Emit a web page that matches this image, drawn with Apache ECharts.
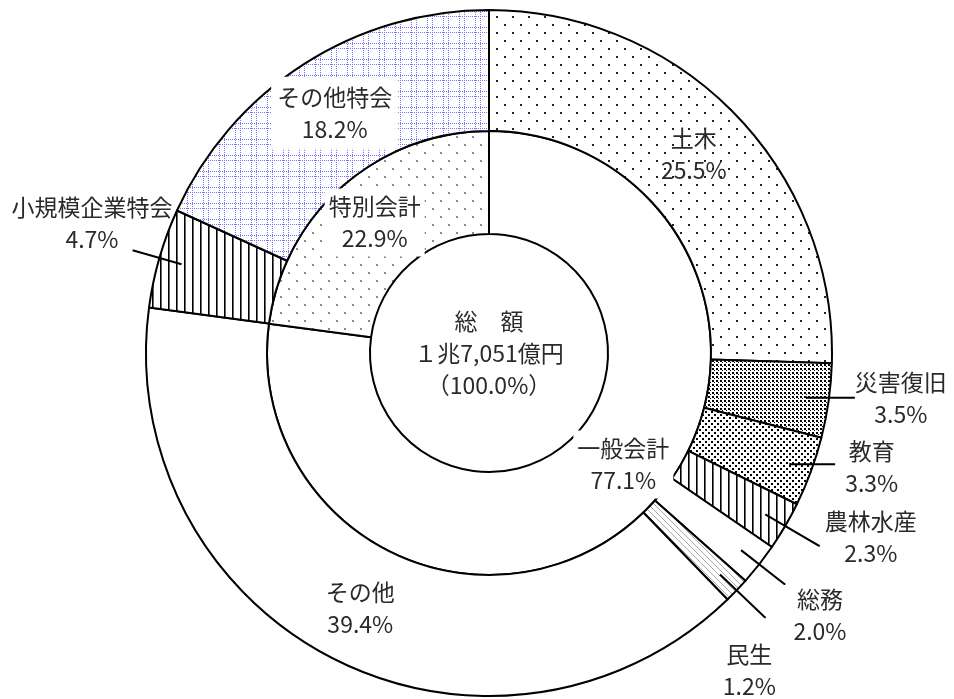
<!DOCTYPE html>
<html><head><meta charset="utf-8">
<script src="https://cdn.jsdelivr.net/npm/echarts/dist/echarts.min.js"></script>
<style>html,body{margin:0;padding:0;background:#fff}#c{width:954px;height:699px}</style>
</head><body><div id="c"></div>
<script>
// ---- data ----
const innerNames = ['一般会計', '特別会計'];
const innerValues = [77.1, 22.9];
const outerNames = ['土木', '災害復旧', '教育', '農林水産', '総務', '民生', 'その他', '小規模企業特会', 'その他特会'];
const outerValues = [25.5, 3.5, 3.3, 2.3, 2.0, 1.2, 39.4, 4.7, 18.2];
const centerLines = ['総　額', '１兆7,051億円', '（100.0%）'];

// ---- layout / style ----
const CX = 489, CY = 353;
const FONT = '"Noto Sans CJK JP", "Noto Sans", sans-serif';
const FS = 23, LH = 32, TXT = '#2a2a2a';

function pat(w, h, fn) {
  const c = document.createElement('canvas'); c.width = w; c.height = h;
  const g = c.getContext('2d'); g.fillStyle = '#fff'; g.fillRect(0, 0, w, h); fn(g);
  return { image: c, repeat: 'repeat' };
}
const patterns = {
  '土木': pat(16, 16, g => { g.fillStyle = '#222'; g.fillRect(0, 0, 2, 2); g.fillRect(8, 8, 2, 2); }),
  '災害復旧': pat(4, 4, g => { g.fillStyle = '#000'; g.fillRect(0, 0, 2, 2); g.fillRect(2, 2, 1, 1); }),
  '教育': pat(6, 6, g => { g.fillStyle = '#000'; g.fillRect(0, 0, 2, 2); g.fillRect(3, 3, 2, 2); }),
  '農林水産': pat(8, 8, g => { g.fillStyle = '#000'; g.fillRect(0, 0, 1.6, 8); }),
  '総務': '#ffffff',
  '民生': pat(6, 6, g => { g.strokeStyle = '#aaa'; g.lineWidth = 1; g.beginPath(); g.moveTo(-1, -1); g.lineTo(7, 7); g.moveTo(-1, 5); g.lineTo(1, 7); g.moveTo(5, -1); g.lineTo(7, 1); g.stroke(); }),
  'その他': '#ffffff',
  '小規模企業特会': pat(8, 8, g => { g.fillStyle = '#000'; g.fillRect(0, 0, 1.6, 8); }),
  'その他特会': pat(16, 16, g => {
    g.fillStyle = '#7474ff';
    for (let i = 0; i < 16; i += 2) { g.fillRect(i, 0, 1, 1); g.fillRect(i, 11, 1, 1); g.fillRect(0, i, 1, 1); g.fillRect(11, i, 1, 1); }
  }),
  '一般会計': '#ffffff',
  '特別会計': pat(16, 16, g => { g.fillStyle = '#888'; g.fillRect(0, 0, 2, 2); g.fillRect(8, 8, 2, 2); })
};

const insideOuter = ['土木', 'その他', 'その他特会'];
const labelBg = ['その他特会', '一般会計', '特別会計'];
// leader lines: [length, length2]
const leader = {
  '災害復旧': [2, 47], '教育': [2, 44], '農林水産': [62, 1],
  '総務': [55, 1], '民生': [62, 1], '小規模企業特会': [50, 1]
};
const labelShift = {
  '災害復旧': [-5, 0], '教育': [5, 3], '農林水産': [0, -8],
  '総務': [3, 31], '民生': [-48, 53], '小規模企業特会': [45, -27],
  '一般会計': [20, -19]
};

const rich = { c: { align: 'center', fontSize: FS, lineHeight: LH, color: TXT, fontFamily: FONT } };
function fmt(p) { return '{c|' + p.name + '}\n{c|' + p.value.toFixed(1) + '%}'; }
function shiftFn(names) {
  return function (p) { const s = labelShift[names[p.dataIndex]]; return s ? { dx: s[0], dy: s[1] } : {}; };
}
const border = { borderColor: '#000', borderWidth: 2 };

const chart = echarts.init(document.getElementById('c'), null, { renderer: 'canvas' });
chart.setOption({
  animation: false,
  backgroundColor: '#fff',
  textStyle: { fontFamily: FONT },
  series: [
    {
      type: 'pie', name: 'inner', center: [CX, CY], radius: [119, 222], z: 2,
      startAngle: 90, clockwise: true, silent: true, avoidLabelOverlap: false,
      labelLayout: shiftFn(innerNames),
      data: innerNames.map((n, i) => ({
        name: n, value: innerValues[i],
        itemStyle: Object.assign({ color: patterns[n] }, border),
        label: {
          show: true, position: 'inside', formatter: fmt, rich,
          backgroundColor: labelBg.includes(n) ? '#fff' : 'transparent', padding: [2, 4]
        }
      }))
    },
    {
      type: 'pie', name: 'outer', center: [CX, CY], radius: [222, 343], z: 2,
      startAngle: 90, clockwise: true, silent: true, avoidLabelOverlap: false,
      data: outerNames.map((n, i) => ({
        name: n, value: outerValues[i],
        itemStyle: Object.assign({ color: patterns[n] }, border),
        label: {
          show: insideOuter.includes(n), position: 'inside', formatter: fmt, rich,
          backgroundColor: labelBg.includes(n) ? '#fff' : 'transparent', padding: [4, 6]
        },
        labelLine: { show: false }
      }))
    },
    {
      type: 'pie', name: 'leaders', center: [CX, CY], radius: [0, 320], z: 5,
      startAngle: 90, clockwise: true, silent: true, avoidLabelOverlap: false,
      labelLayout: shiftFn(outerNames),
      itemStyle: { color: 'rgba(0,0,0,0)', borderWidth: 0 },
      emphasis: { disabled: true },
      data: outerNames.map((n, i) => {
        const L = leader[n];
        return {
          name: n, value: outerValues[i],
          label: { show: !!L, position: 'outside', formatter: fmt, rich, distanceToLabelLine: 5 },
          labelLine: L ? { show: true, length: L[0], length2: L[1], smooth: false,
            lineStyle: { color: '#000', width: 2 } } : { show: false }
        };
      })
    }
  ],
  graphic: [{
    type: 'text', x: CX, y: CY, silent: true, z: 10,
    style: {
      text: centerLines.join('\n'), fontSize: FS, lineHeight: LH, fill: TXT,
      fontFamily: FONT, align: 'center', verticalAlign: 'middle'
    }
  }]
});
</script></body></html>
